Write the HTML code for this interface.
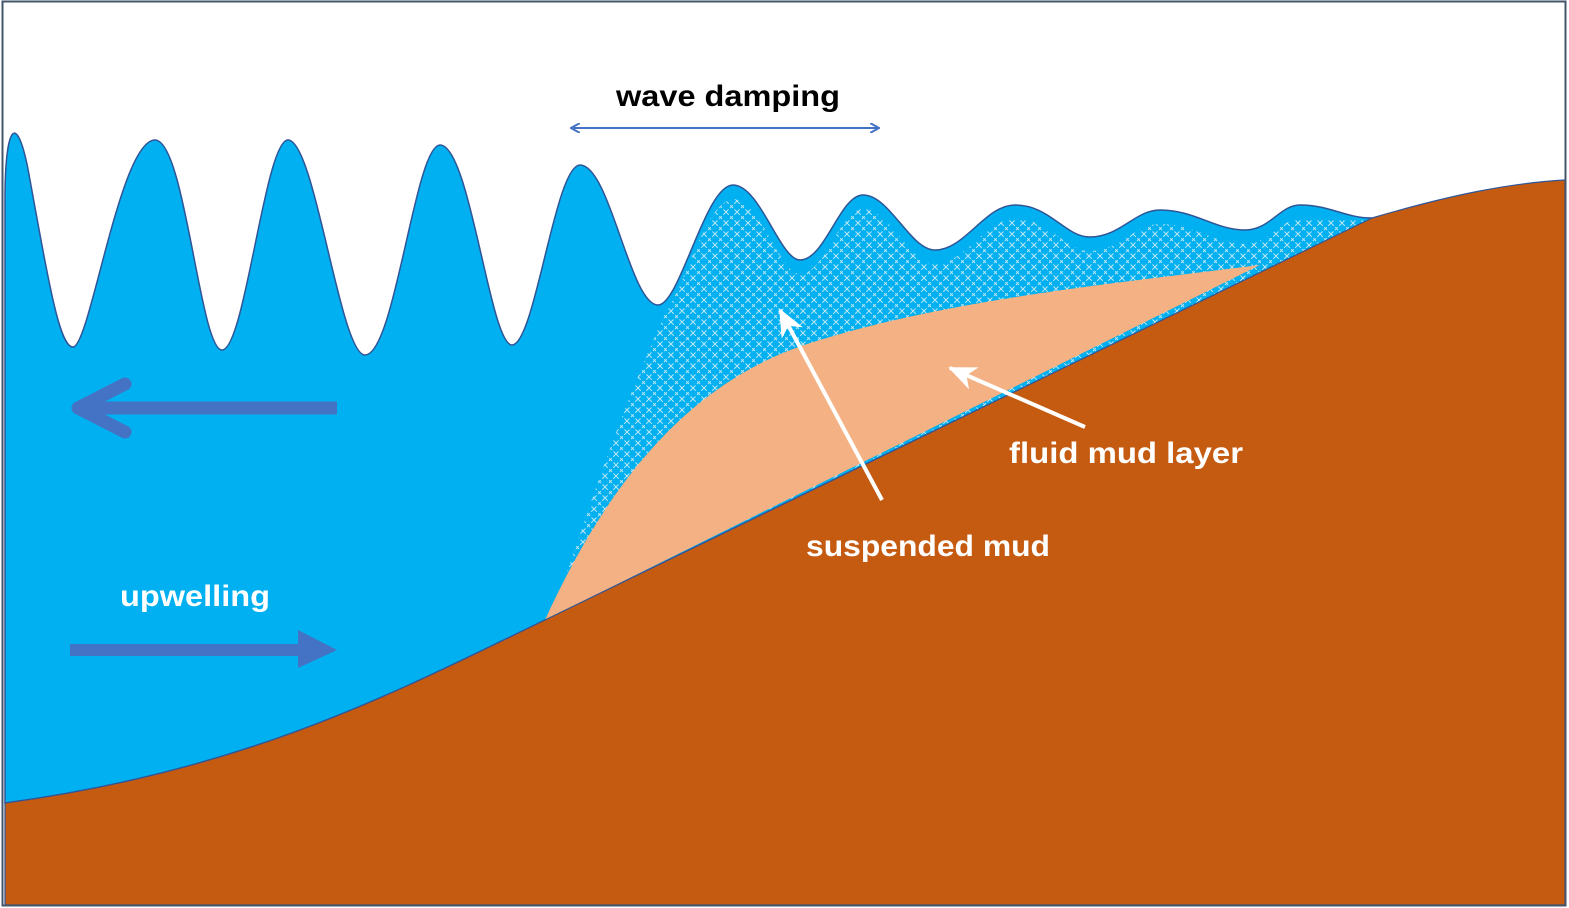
<!DOCTYPE html>
<html><head><meta charset="utf-8"><style>
html,body{margin:0;padding:0;background:#fff}
svg{display:block}
text{font-family:"Liberation Sans",sans-serif;font-weight:bold}
</style></head><body>
<svg width="1569" height="908" viewBox="0 0 1569 908" xmlns="http://www.w3.org/2000/svg">
<defs>
<pattern id="hatch" width="11" height="11" patternUnits="userSpaceOnUse">
<rect width="11" height="11" fill="#00B0F0"/>
<path d="M0,0 L11,11 M11,0 L0,11" stroke="#BFE6F2" stroke-width="1" stroke-dasharray="4 2"/>
</pattern>
<marker id="ah" markerWidth="10" markerHeight="10" refX="8" refY="5" orient="auto" markerUnits="userSpaceOnUse">
<path d="M0,0 L9,5 L0,10" fill="none" stroke="#4472C4" stroke-width="2"/>
</marker>
<marker id="aw" markerWidth="30" markerHeight="24" refX="26" refY="12" orient="auto" markerUnits="userSpaceOnUse">
<path d="M0,0 L28,12 L0,24 L8,12 Z" fill="#fff"/>
</marker>
</defs>
<rect x="0" y="0" width="1569" height="908" fill="#fff"/>
<!-- water -->
<path d="M5,803 L5,200 C5,120 18,110 30,180 C50,290 60,347 73,347 C90,347 120,140 155,140 C185,140 200,350 222,350 C245,350 265,140 288,140 C315,140 340,355 365,355 C395,355 415,145 440,145 C470,145 490,345 512,345 C535,345 555,165 580,165 C610,165 630,305 658,305 C680,305 705,185 733,185 C760,185 780,260 800,260 C825,260 840,195 863,195 C890,195 910,250 935,250 C965,250 985,205 1015,205 C1050,205 1065,237 1090,237 C1120,237 1135,210 1160,210 C1195,210 1215,230 1245,230 C1270,230 1280,205 1300,205 C1330,205 1345,218 1372,218 L545,620 C400,690 250,770 5,803 Z" fill="#00B0F0" stroke="#2F5597" stroke-width="1.5"/>
<!-- hatched suspended mud -->
<path transform="translate(0,14)" d="M552,600 C575,540 610,420 665,300 C690,260 705,190 733,185 C760,185 780,260 800,260 C825,260 840,195 863,195 C890,195 910,250 935,250 C965,250 985,205 1015,205 C1050,205 1065,237 1090,237 C1120,237 1135,210 1160,210 C1195,210 1215,230 1245,230 C1270,230 1280,205 1300,205 C1330,205 1345,205 1372,205 Z" fill="url(#hatch)"/>
<!-- fluid mud -->
<path d="M545,620 C600,500 680,380 820,340 C950,300 1100,285 1260,265 L545,620 Z" fill="#F4B183"/>
<!-- seabed -->
<path d="M5,803 C250,770 400,690 545,620 L1372,218 C1450,195 1510,183 1565,180 L1565,905 L5,905 Z" fill="#C55A11" stroke="#2F5597" stroke-width="1.2"/>
<!-- frame -->
<rect x="2.5" y="1.5" width="1563" height="904" fill="none" stroke="#44546A" stroke-width="2"/>
<!-- wave damping -->
<line x1="572" y1="128" x2="878" y2="128" stroke="#4472C4" stroke-width="2" marker-end="url(#ah)"/>
<line x1="878" y1="128" x2="572" y2="128" stroke="#4472C4" stroke-width="2" marker-end="url(#ah)"/>
<text x="728" y="106" font-size="30" text-anchor="middle" fill="#000" textLength="224" lengthAdjust="spacingAndGlyphs">wave damping</text>
<!-- left arrow -->
<line x1="337" y1="408" x2="85" y2="408" stroke="#4472C4" stroke-width="13"/>
<path d="M125,384 L78,408 L125,432" fill="none" stroke="#4472C4" stroke-width="13" stroke-linecap="round" stroke-linejoin="round"/>
<!-- right arrow -->
<line x1="70" y1="650" x2="300" y2="650" stroke="#4472C4" stroke-width="12"/>
<path d="M298,630 L337,650 L298,668 Z" fill="#4472C4"/>
<text x="195" y="606" font-size="30" text-anchor="middle" fill="#fff" textLength="150" lengthAdjust="spacingAndGlyphs">upwelling</text>
<!-- white arrows -->
<line x1="882" y1="500" x2="780" y2="310" stroke="#fff" stroke-width="4" marker-end="url(#aw)"/>
<line x1="1085" y1="427" x2="950" y2="368" stroke="#fff" stroke-width="4" marker-end="url(#aw)"/>
<text x="928" y="556" font-size="30" text-anchor="middle" fill="#fff" textLength="244" lengthAdjust="spacingAndGlyphs">suspended mud</text>
<text x="1126" y="463" font-size="30" text-anchor="middle" fill="#fff" textLength="234" lengthAdjust="spacingAndGlyphs">fluid mud layer</text>
</svg>
</body></html>
